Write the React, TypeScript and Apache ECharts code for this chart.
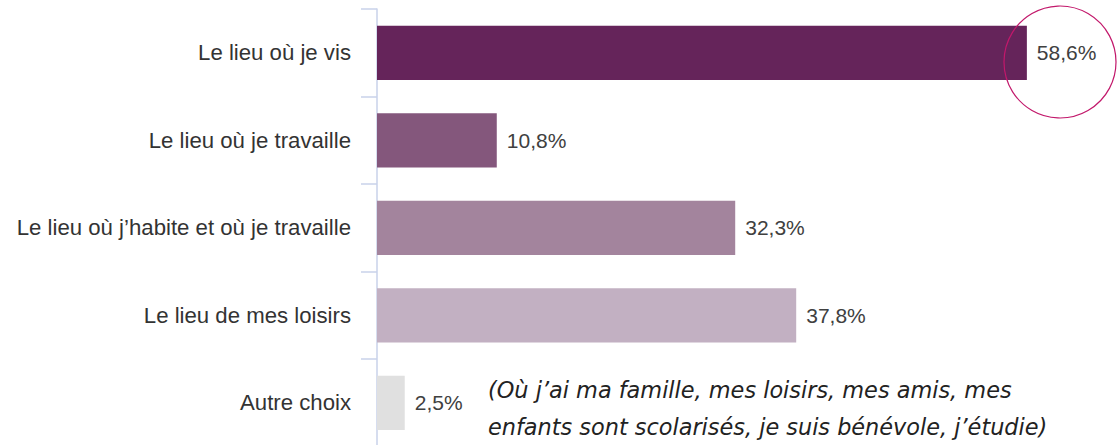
import React, { useEffect, useRef } from "react";
import * as echarts from "echarts";

const categories = [
  "Le lieu où je vis",
  "Le lieu où je travaille",
  "Le lieu où j’habite et où je travaille",
  "Le lieu de mes loisirs",
  "Autre choix",
];
const values = [58.6, 10.8, 32.3, 37.8, 2.5];
const barColors = ["#65245A", "#84577C", "#A3849D", "#C2B0C2", "#E0E0E0"];
const noteLines = [
  "(Où j’ai ma famille, mes loisirs, mes amis, mes",
  "enfants sont scolarisés, je suis bénévole, j’étudie)",
];

export default function App() {
  const ref = useRef<HTMLDivElement>(null);
  useEffect(() => {
    const chart = echarts.init(ref.current!, null, { renderer: "svg" });
    chart.setOption({
      animation: false,
      grid: { left: 377, top: 9, width: 665.4, height: 437.5, containLabel: false },
      xAxis: {
        type: "value",
        min: 0,
        max: 60,
        show: false,
      },
      yAxis: {
        type: "category",
        inverse: true,
        data: categories,
        axisLine: { show: true, lineStyle: { color: "#C9D2EA", width: 1.5 } },
        axisTick: { show: true, length: 16, lineStyle: { color: "#C9D2EA", width: 1.5 } },
        axisLabel: {
          margin: 26,
          color: "#333333",
          fontSize: 22.2,
          fontFamily: "'Liberation Sans', Arial, sans-serif",
        },
      },
      series: [
        {
          type: "bar",
          data: values.map((v, i) => ({ value: v, itemStyle: { color: barColors[i] } })),
          barWidth: "62%",
          label: {
            show: true,
            position: "right",
            distance: 10,
            color: "#404040",
            fontSize: 21,
            fontFamily: "'Liberation Sans', Arial, sans-serif",
            formatter: (p: any) => p.value.toFixed(1).replace(".", ",") + "%",
          },
        },
      ],
      graphic: [
        {
          type: "circle",
          shape: { cx: 1060, cy: 62, r: 56 },
          style: { fill: "none", stroke: "#C2186B", lineWidth: 1.2 },
          z: 10,
        },
        ...noteLines.map((t, i) => ({
          type: "text",
          x: 488,
          y: 379 + i * 37,
          style: {
            text: t,
            font: "italic 22.4px 'DejaVu Sans', sans-serif",
            fill: "#222222",
          },
        })),
      ],
    });
    return () => chart.dispose();
  }, []);
  return (
    <div
      ref={ref}
      style={{ position: "absolute", left: 0, top: 0, width: 1119, height: 447 }}
    />
  );
}
